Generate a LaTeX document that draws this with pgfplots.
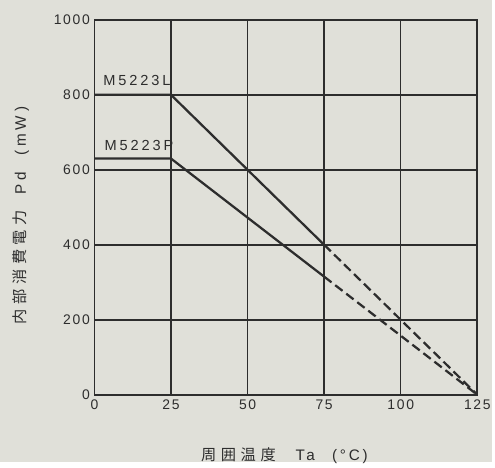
\documentclass[border=0pt]{standalone}
\usepackage{pgfplots}
\pgfplotsset{compat=1.18}
\usepackage{fontspec}
\setmainfont{Liberation Sans}
\newfontfamily\jp[LetterSpace=30]{Noto Sans CJK JP}
\newfontfamily\spf[LetterSpace=20]{Liberation Sans}
\newfontfamily\tkf[LetterSpace=12]{Liberation Sans}
\definecolor{bg}{RGB}{224,224,217}
\definecolor{ink}{RGB}{45,45,45}
\begin{document}
\begin{tikzpicture}
\fill[bg] (-71.25pt,-51pt) rectangle (300pt,297.75pt);
\begin{axis}[
  scale only axis,
  width=288.75pt, height=282.75pt,
  xmin=0, xmax=125, ymin=0, ymax=1000,
  xtick={0,25,50,75,100,125},
  ytick={0,200,400,600,800,1000},
  grid=major,
  major grid style={ink, line width=1.1pt},
  axis line style={ink, line width=1.4pt},
  tick style={draw=none},
  tick label style={font=\tkf\fontsize{10.5}{12}\selectfont, text=ink},
  /pgf/number format/assume math mode=true,
  /pgf/number format/1000 sep={},
  xlabel={\jp\fontsize{11.5}{12}\selectfont 周囲温度\hspace{15pt}\spf Ta\hspace{13pt}(\hspace{2pt}°C\hspace{2pt})},
  ylabel={\jp\fontsize{11.5}{12}\selectfont 内部消費電力\hspace{12pt}\spf Pd\hspace{13pt}(\hspace{3pt}mW\hspace{3pt})},
  label style={text=ink},
  xlabel style={at={(axis description cs:0.496,-0.162)}, anchor=center},
  ylabel style={at={(axis description cs:-0.192,0.478)}, anchor=center},
]
\addplot[ink, line width=1.7pt] coordinates {(0,800) (25,800) (75,400)};
\addplot[ink, line width=1.7pt, dash pattern=on 7pt off 3.5pt] coordinates {(75,400) (125,0)};
\addplot[ink, line width=1.7pt] coordinates {(0,630) (25,630) (75,315)};
\addplot[ink, line width=1.7pt, dash pattern=on 7pt off 3.5pt] coordinates {(75,315) (125,0)};
\node[anchor=base west, inner sep=0pt, font=\spf\fontsize{11}{12}\selectfont, text=ink] at (axis cs:2.8,824) {M5223L};
\node[anchor=base west, inner sep=0pt, font=\spf\fontsize{11}{12}\selectfont, text=ink] at (axis cs:3.2,651) {M5223P};
\end{axis}
\end{tikzpicture}
\end{document}
